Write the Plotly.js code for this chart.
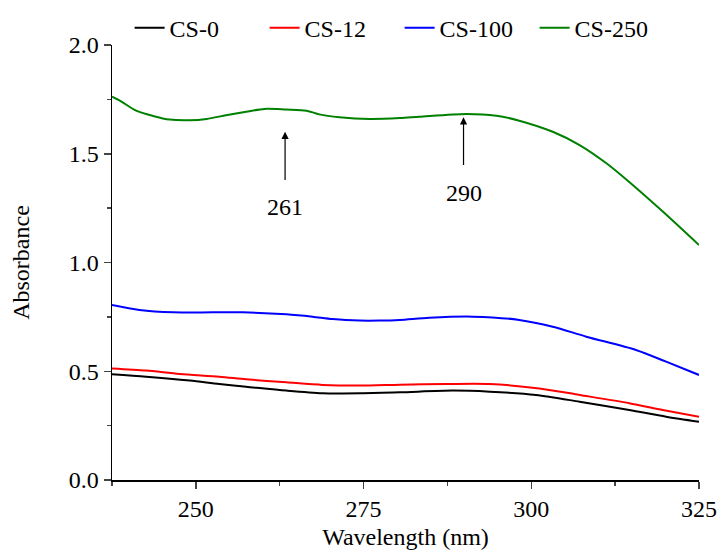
<!DOCTYPE html>
<html>
<head>
<meta charset="utf-8">
<script src="https://cdn.plot.ly/plotly-3.0.1.min.js"></script>
<style>html,body{margin:0;padding:0;background:#fff}#chart{width:718px;height:550px}</style>
</head>
<body>
<div id="chart"></div>
<script>
// Wavelength (nm) and absorbance values
const seriesNames = ["CS-0", "CS-12", "CS-100", "CS-250"];
const seriesColors = ["#000000", "#ff0000", "#0000ff", "#008000"];

const xCS0 = [237.5, 242.6, 249.1, 253.5, 257.5, 263.5, 268.9, 274.9, 280.4, 288.3, 293.8, 300.7, 307.2, 314.6, 320.1, 325];
const yCS0 = [0.486, 0.475, 0.457, 0.441, 0.429, 0.411, 0.399, 0.399, 0.403, 0.411, 0.406, 0.391, 0.360, 0.322, 0.291, 0.268];

const xCS12 = [237.5, 242.6, 247.6, 253.5, 257.5, 263.5, 268.9, 274.4, 280.4, 287.3, 293.8, 301.2, 307.2, 314.6, 319.6, 325];
const yCS12 = [0.513, 0.503, 0.487, 0.475, 0.463, 0.449, 0.437, 0.434, 0.438, 0.441, 0.441, 0.421, 0.391, 0.353, 0.322, 0.291];

const xCS100 = [237.5, 241.6, 246.6, 252.5, 257.0, 263.5, 267.4, 270.4, 274.4, 277.4, 280.4, 284.8, 291.3, 298.2, 303.2, 308.2, 315.6, 320.1, 325];
const yCS100 = [0.805, 0.782, 0.771, 0.771, 0.771, 0.762, 0.751, 0.740, 0.733, 0.733, 0.736, 0.746, 0.751, 0.736, 0.705, 0.659, 0.598, 0.544, 0.483];

const xCS250 = [237.5, 238.9, 241.1, 243.6, 246.1, 249.1, 251.6, 254.5, 257.5, 260.2, 263.5, 266.5, 268.4, 271.4, 275.9, 280.4, 283.3, 290.3, 294.8, 298.2, 303.2, 307.2, 311.2, 314.6, 319.6, 325];
const yCS250 = [1.762, 1.740, 1.698, 1.674, 1.657, 1.654, 1.660, 1.677, 1.693, 1.706, 1.703, 1.698, 1.681, 1.668, 1.660, 1.664, 1.670, 1.683, 1.675, 1.652, 1.601, 1.540, 1.456, 1.370, 1.234, 1.080];

// Peak markers: label text, arrow x, arrow tip y, arrow tail y, label y
const peakLabels = ["261", "290"];
const peakX = [263.3, 289.9];
const peakTipY = [1.601, 1.668];
const peakTailY = [1.372, 1.441];
const peakLabelY = [1.257, 1.318];

const xs = [xCS0, xCS12, xCS100, xCS250];
const ys = [yCS0, yCS12, yCS100, yCS250];

const FONT = "'Liberation Serif', 'Times New Roman', serif";
const FS = 24;

const traces = seriesNames.map((n, i) => ({
  x: xs[i], y: ys[i], name: n, type: "scatter", mode: "lines",
  line: {color: seriesColors[i], width: 2, shape: "spline", smoothing: 0.8}
}));

const annotations = [];
peakLabels.forEach((t, i) => {
  annotations.push({
    x: peakX[i], y: peakTipY[i], ax: peakX[i], ay: peakTailY[i],
    xref: "x", yref: "y", axref: "x", ayref: "y",
    text: "", showarrow: true, arrowhead: 2, arrowsize: 1.2, arrowwidth: 1.2, arrowcolor: "#000"
  });
  annotations.push({
    x: peakX[i], y: peakLabelY[i], xref: "x", yref: "y",
    text: t, showarrow: false, font: {family: FONT, size: FS, color: "#000"}
  });
});

const layout = {
  width: 718, height: 550,
  margin: {l: 112, r: 19, t: 45, b: 70, autoexpand: false},
  paper_bgcolor: "#fff", plot_bgcolor: "#fff",
  font: {family: FONT, size: FS, color: "#000"},
  showlegend: true,
  legend: {orientation: "h", x: 0.03, y: 1.039, xanchor: "left", yanchor: "middle",
           entrywidth: 90, entrywidthmode: "pixels",
           font: {family: FONT, size: FS}, bgcolor: "rgba(0,0,0,0)", tracegroupgap: 0},
  xaxis: {
    range: [237.5, 325], tick0: 250, dtick: 25, ticks: "outside", ticklen: 7, tickwidth: 1.5,
    showline: true, linecolor: "#000", linewidth: 1.5, showgrid: false, zeroline: false,
    minor: {dtick: 12.5, tick0: 250, ticks: "outside", ticklen: 4, tickwidth: 1.5, showgrid: false},
    title: {text: "Wavelength (nm)", font: {family: FONT, size: FS}, standoff: 13},
    tickfont: {family: FONT, size: FS}
  },
  yaxis: {
    range: [0, 2], dtick: 0.5, tick0: 0, tickformat: ".1f", ticks: "outside", ticklen: 7, tickwidth: 1.5,
    showline: true, linecolor: "#000", linewidth: 1.5, showgrid: false, zeroline: false,
    minor: {dtick: 0.25, ticks: "outside", ticklen: 4, tickwidth: 1.5, showgrid: false},
    title: {text: "Absorbance", font: {family: FONT, size: FS}, standoff: 32},
    tickfont: {family: FONT, size: FS}
  },
  annotations: annotations
};

Plotly.newPlot("chart", traces, layout, {displayModeBar: false, staticPlot: true});
</script>
</body>
</html>
